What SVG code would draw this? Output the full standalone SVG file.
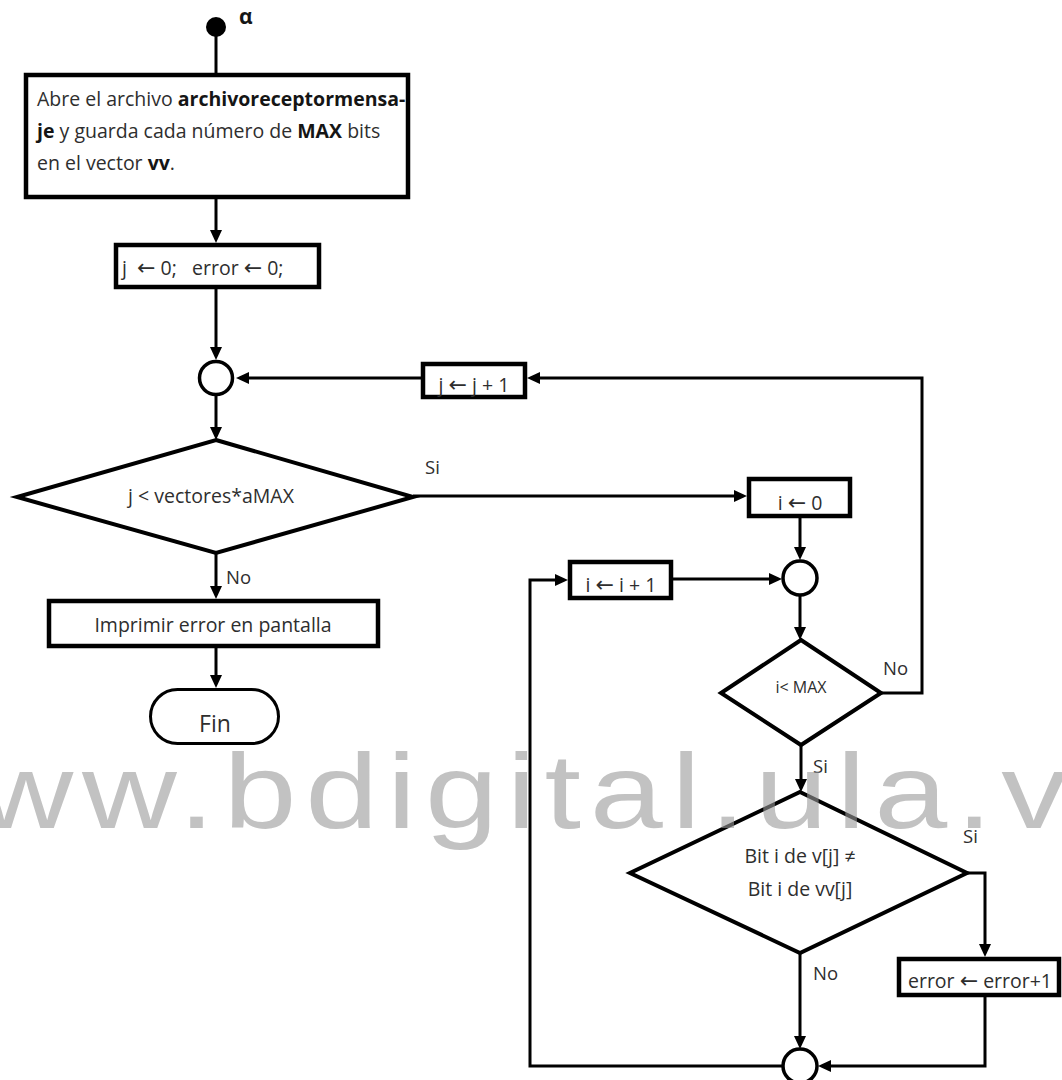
<svg xmlns="http://www.w3.org/2000/svg" width="1062" height="1080" viewBox="0 0 1062 1080">
  <style>
    .box { fill: #ffffff; stroke: #000000; stroke-width: 4.5; }
    .dec { fill: #ffffff; stroke: #000000; stroke-width: 4; stroke-linejoin: miter; }
    .join { fill: #ffffff; stroke: #000000; stroke-width: 3.5; }
    .term { fill: #ffffff; stroke: #000000; stroke-width: 3; }
    .wire { fill: none; stroke: #000000; stroke-width: 3; }
    .arrow { marker-end: url(#head); }
    text { font-family: "Open Sans", "Liberation Sans", sans-serif; fill: #2e2e2e; }
    .t { font-size: 19.5px; }
    .c { text-anchor: middle; }
    .lbl { font-size: 18.5px; }
    .b { font-weight: bold; fill: #151515; }
    .ar { font-family: "DejaVu Sans", sans-serif; font-size: 22px; }
    .mark { font-family: "Liberation Sans", Arial, sans-serif; font-size: 105px; fill: #9a9a9a; fill-opacity: 0.6; letter-spacing: 7px; }
  </style>
  <defs>
    <marker id="head" markerUnits="userSpaceOnUse" markerWidth="14" markerHeight="13" refX="5" refY="6" orient="auto">
      <path d="M0,0 L13,6 L0,12 z" fill="#000000"/>
    </marker>
  </defs>
  <rect width="1062" height="1080" fill="#ffffff"/>

  <!-- connectors -->
  <g id="connectors">
    <line class="wire" x1="216" y1="27" x2="216" y2="73"/>
    <line class="wire arrow" x1="216" y1="199" x2="216" y2="235"/>
    <line class="wire arrow" x1="216" y1="289" x2="216" y2="352"/>
    <line class="wire arrow" x1="216" y1="395" x2="216" y2="432"/>
    <line class="wire arrow" x1="421" y1="378" x2="244" y2="378"/>
    <polyline class="wire arrow" points="881,693 922,693 922,378 535,378"/>
    <line class="wire arrow" x1="413" y1="496" x2="739" y2="496"/>
    <line class="wire arrow" x1="800" y1="518" x2="800" y2="552"/>
    <line class="wire arrow" x1="800" y1="595" x2="800" y2="632"/>
    <line class="wire arrow" x1="673" y1="579" x2="774" y2="579"/>
    <line class="wire arrow" x1="801" y1="745" x2="801" y2="784"/>
    <polyline class="wire arrow" points="967,873 985,873 985,949"/>
    <polyline class="wire arrow" points="985,997 985,1066 826,1066"/>
    <line class="wire arrow" x1="800" y1="953" x2="800" y2="1041"/>
    <polyline class="wire arrow" points="783,1066 530,1066 530,580 560,580"/>
    <line class="wire arrow" x1="216" y1="553" x2="216" y2="591"/>
    <line class="wire arrow" x1="216" y1="648" x2="216" y2="680"/>
  </g>

  <!-- start point -->
  <g id="start">
    <circle cx="216" cy="27" r="10" fill="#000000"/>
    <text x="239" y="24" class="b" style="font-size:21px">α</text>
  </g>

  <g id="open-file">
    <rect class="box" x="26" y="75" width="382" height="122"/>
    <text x="37" y="106" class="t">Abre el archivo <tspan class="b">archivoreceptormensa-</tspan></text>
    <text x="37" y="138" class="t"><tspan class="b">je</tspan> y guarda cada número de <tspan class="b">MAX</tspan> bits</text>
    <text x="37" y="170" class="t">en el vector <tspan class="b">vv</tspan>.</text>
  </g>

  <g id="init">
    <rect class="box" x="116" y="245" width="203" height="42"/>
    <text x="122" y="275" class="t" xml:space="preserve">j  <tspan class="ar">←</tspan> 0;   error <tspan class="ar">←</tspan> 0;</text>
  </g>

  <g id="join-j">
    <circle class="join" cx="216" cy="378" r="16.5"/>
  </g>

  <g id="inc-j">
    <rect class="box" x="423" y="364" width="102" height="33"/>
    <text x="474" y="392" class="t c">j <tspan class="ar">←</tspan> j + 1</text>
  </g>

  <g id="test-j">
    <polygon class="dec" points="216,440 413,497 216,553 17,497"/>
    <text x="211" y="503" class="t c">j &lt; vectores*aMAX</text>
  </g>

  <g id="print-error">
    <rect class="box" x="49" y="601" width="329" height="45"/>
    <text x="213" y="632" class="t c">Imprimir error en pantalla</text>
  </g>

  <g id="end">
    <rect class="term" x="150.5" y="689.5" width="128" height="54" rx="27" ry="27"/>
    <text x="215" y="732" class="c" style="font-size:23px">Fin</text>
  </g>

  <g id="init-i">
    <rect class="box" x="749" y="479" width="101" height="37"/>
    <text x="800" y="510" class="t c">i <tspan class="ar">←</tspan> 0</text>
  </g>

  <g id="join-i">
    <circle class="join" cx="800" cy="578" r="17"/>
  </g>

  <g id="inc-i">
    <rect class="box" x="570" y="562" width="101" height="36"/>
    <text x="621" y="592" class="t c">i <tspan class="ar">←</tspan> i + 1</text>
  </g>

  <g id="test-i">
    <polygon class="dec" points="801,640 881,693 801,745 721,693"/>
    <text x="801" y="693" class="c" style="font-size:16px">i&lt; MAX</text>
  </g>

  <g id="compare-bits">
    <polygon class="dec" points="800,792 967,873 800,953 630,873"/>
    <text x="800" y="863" class="t c">Bit i de v[j] ≠</text>
    <text x="800" y="896" class="t c">Bit i de vv[j]</text>
  </g>

  <g id="count-error">
    <rect class="box" x="899" y="959" width="160" height="36"/>
    <text x="980" y="988" class="t c">error <tspan class="ar">←</tspan> error+1</text>
  </g>

  <g id="join-bits">
    <circle class="join" cx="800" cy="1066" r="17"/>
  </g>

  <!-- branch labels -->
  <g id="labels">
    <text x="425" y="474" class="lbl">Si</text>
    <text x="226" y="584" class="lbl">No</text>
    <text x="883" y="675" class="lbl">No</text>
    <text x="813" y="773" class="lbl">Si</text>
    <text x="963" y="843" class="lbl">Si</text>
    <text x="813" y="980" class="lbl">No</text>
  </g>

  <!-- repository mark -->
  <text transform="scale(1.25,1)" x="-100" y="828" class="mark">www.bdigital.ula.ve</text>
</svg>
